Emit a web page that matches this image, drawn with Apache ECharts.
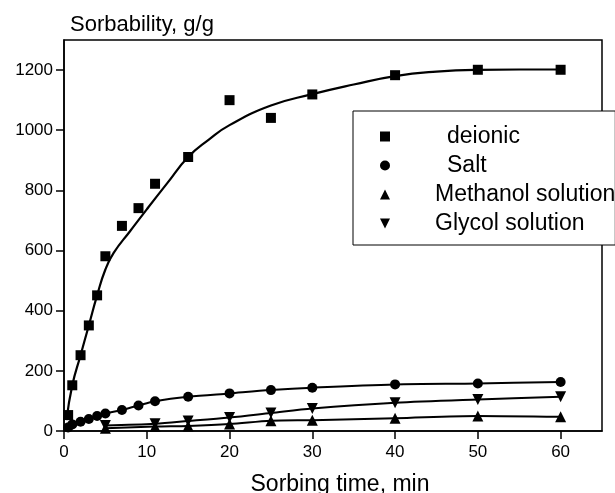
<!DOCTYPE html>
<html>
<head>
<meta charset="utf-8">
<script src="https://cdn.jsdelivr.net/npm/echarts@6/dist/echarts.min.js"></script>
<style>html,body{margin:0;padding:0;background:#fff;}#c{width:615px;height:493px;}</style>
</head>
<body>
<div id="c"></div>
<script>
// ---- data ----
var deionicX = [0.5, 1, 2, 3, 4, 5, 7, 9, 11, 15, 20, 25, 30, 40, 50, 60];
var deionicY = [53, 152, 252, 351, 451, 581, 682, 741, 822, 911, 1100, 1041, 1119, 1183, 1201, 1201];
var fitX = [0.3, 1, 2, 3, 4, 5, 6, 8, 10, 12.5, 15, 17.5, 20, 25, 30, 35, 40, 45, 50, 55, 60];
var fitY = [36, 152, 252, 351, 451, 537, 592, 665, 737, 825, 911, 969, 1017, 1082, 1120, 1152, 1180, 1195, 1201, 1202, 1202];
var saltX = [0.5, 1, 2, 3, 4, 5, 7, 9, 11, 15, 20, 25, 30, 40, 50, 60];
var saltY = [12, 22, 31, 40, 50, 58, 70, 85, 99, 114, 125, 136, 144, 155, 158, 163];
var methX = [5, 11, 15, 20, 25, 30, 40, 50, 60];
var methY = [9, 15, 17, 23, 34, 36, 42, 50, 47];
var glyX = [5, 11, 15, 20, 25, 30, 40, 50, 60];
var glyY = [18, 24, 33, 45, 60, 75, 94, 105, 114];
var xTicks = [0, 10, 20, 30, 40, 50, 60];
var yTicks = [0, 200, 400, 600, 800, 1000, 1200];
var seriesNames = ['deionic', 'Salt', 'Methanol solution', 'Glycol solution'];

function pairs(xs, ys) { return xs.map(function (x, i) { return [x, ys[i]]; }); }
var downTri = 'path://M0,0L10,0L5,10Z';
var FONT = 'Liberation Sans, Arial, sans-serif';

var chart = echarts.init(document.getElementById('c'), null, {renderer: 'canvas'});
chart.setOption({
  backgroundColor: '#fff',
  animation: false,
  textStyle: {fontFamily: FONT, color: '#000'},
  title: {
    text: 'Sorbability, g/g', left: 65, top: 9,
    textStyle: {fontFamily: FONT, fontSize: 22, fontWeight: 'normal', color: '#000'}
  },
  grid: {left: 64, right: 13, top: 40, bottom: 62, show: true, borderColor: '#000', borderWidth: 1.5, outerBoundsMode: 'none', containLabel: false},
  legend: {
    orient: 'vertical', left: 353, top: 111,
    backgroundColor: '#fff', borderColor: '#000', borderWidth: 1,
    padding: [14, 0, 10, 27], itemGap: 6, itemWidth: 10, itemHeight: 10,
    data: [
      {name: seriesNames[0], icon: 'rect'},
      {name: seriesNames[1], icon: 'circle'},
      {name: seriesNames[2], icon: 'triangle'},
      {name: seriesNames[3], icon: downTri}
    ],
    formatter: function (n) { return (n === 'deionic' || n === 'Salt') ? '{a|' + n + '}' : '{b|' + n + '}'; },
    textStyle: {fontFamily: FONT, fontSize: 23, color: '#000',
      rich: {a: {fontFamily: FONT, fontSize: 23, color: '#000', padding: [0, 0, 0, 52]},
             b: {fontFamily: FONT, fontSize: 23, color: '#000', padding: [0, 0, 0, 40]}}}
  },
  xAxis: {
    type: 'value', min: 0, max: 65, interval: 10,
    name: 'Sorbing time, min', nameLocation: 'middle', nameGap: 42,
    nameTextStyle: {fontFamily: FONT, fontSize: 23, color: '#000', padding: [0, 0, 0, 14]},
    axisLine: {lineStyle: {color: '#000', width: 1.5}},
    axisTick: {length: 8, lineStyle: {color: '#000', width: 1.5}, customValues: xTicks},
    axisLabel: {fontFamily: FONT, fontSize: 17, color: '#000', margin: 13, customValues: xTicks},
    splitLine: {show: false}
  },
  yAxis: {
    type: 'value', min: 0, max: 1300, interval: 100,
    axisLine: {show: true, lineStyle: {color: '#000', width: 1.5}},
    axisTick: {show: true, length: 8, lineStyle: {color: '#000', width: 1.5}, customValues: yTicks},
    axisLabel: {fontFamily: FONT, fontSize: 17, color: '#000', margin: 11, customValues: yTicks,
      formatter: function (v) { return String(v); }},
    splitLine: {show: false}
  },
  series: [
    {name: 'fit', type: 'line', data: pairs(fitX, fitY), smooth: 0.5, showSymbol: false,
     lineStyle: {color: '#000', width: 2.2}, itemStyle: {color: '#000'}, z: 1},
    {name: seriesNames[0], type: 'scatter', data: pairs(deionicX, deionicY), symbol: 'rect', symbolSize: 10,
     itemStyle: {color: '#000', opacity: 1}, z: 3},
    {name: seriesNames[1], type: 'line', data: pairs(saltX, saltY), smooth: 0.3, symbol: 'circle', symbolSize: 10,
     lineStyle: {color: '#000', width: 2}, itemStyle: {color: '#000', opacity: 1}},
    {name: seriesNames[2], type: 'line', data: pairs(methX, methY), smooth: 0.3, symbol: 'triangle', symbolSize: 11,
     lineStyle: {color: '#000', width: 2}, itemStyle: {color: '#000', opacity: 1}},
    {name: seriesNames[3], type: 'line', data: pairs(glyX, glyY), smooth: 0.3, symbol: downTri, symbolSize: 11,
     lineStyle: {color: '#000', width: 2}, itemStyle: {color: '#000', opacity: 1}}
  ]
});
</script>
</body>
</html>
